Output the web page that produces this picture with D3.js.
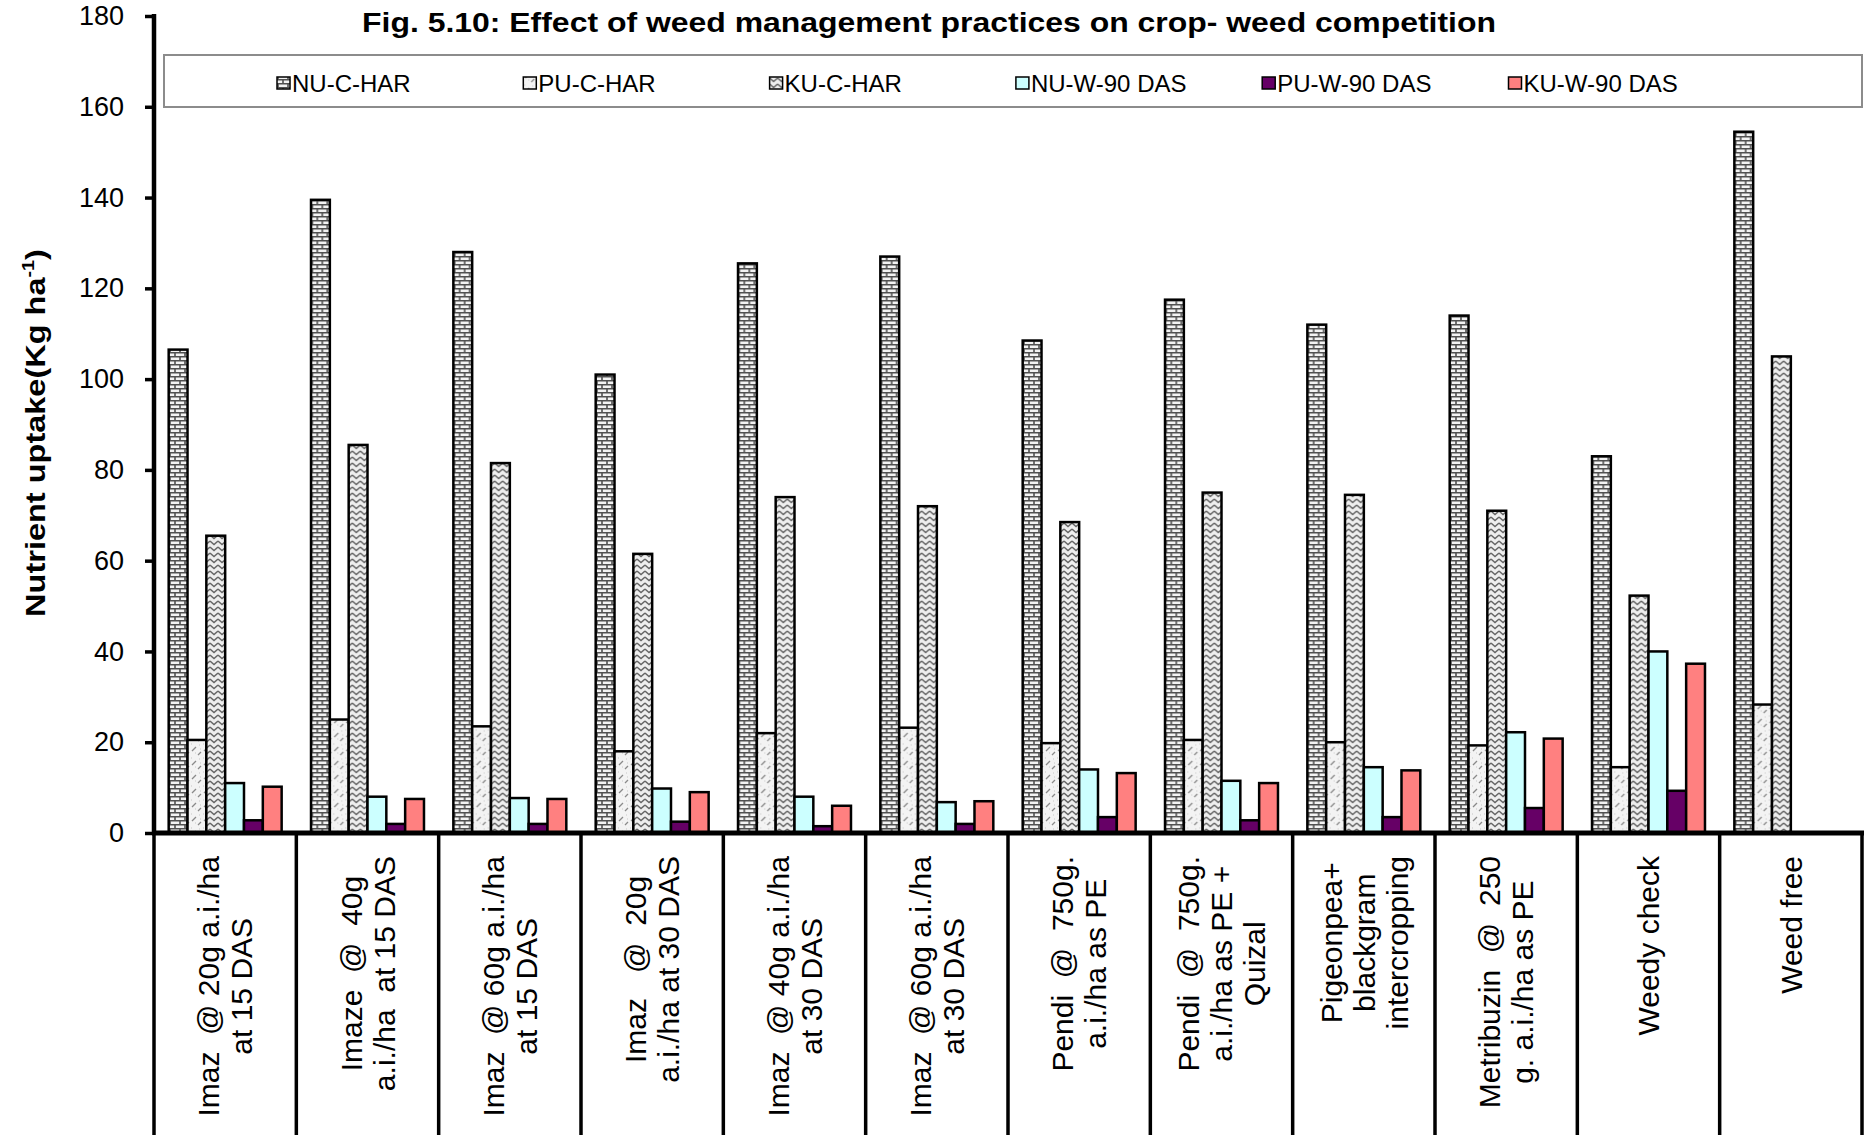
<!DOCTYPE html>
<html>
<head>
<meta charset="utf-8">
<script src="https://cdn.jsdelivr.net/npm/d3@7"></script>
<style>
  body { margin: 0; background: #fff; }
  svg text { font-family: "Liberation Sans", Arial, sans-serif; }
</style>
</head>
<body>
<svg id="chart"></svg>
<script>
// categories (each entry is the label split into its lines)
var categories = [
  ["Imaz  @ 20g a.i./ha", "at 15 DAS"],
  ["Imaze  @  40g", "a.i./ha  at 15 DAS"],
  ["Imaz  @ 60g a.i./ha", "at 15 DAS"],
  ["Imaz   @  20g", "a.i./ha at 30 DAS"],
  ["Imaz  @ 40g a.i./ha", "at 30 DAS"],
  ["Imaz  @ 60g a.i./ha", "at 30 DAS"],
  ["Pendi  @  750g.", "a.i./ha as PE"],
  ["Pendi  @  750g.", "a.i./ha as PE +", "Quizal"],
  ["Pigeonpea+", "blackgram", "intercropping"],
  ["Metribuzin  @  250", "g. a.i./ha as PE"],
  ["Weedy check"],
  ["Weed free"]
]
var seriesNames = ["NU-C-HAR", "PU-C-HAR", "KU-C-HAR", "NU-W-90 DAS", "PU-W-90 DAS", "KU-W-90 DAS"]

var nuCHar = [106.5, 139.5, 128, 101, 125.5, 127, 108.5, 117.5, 112, 114, 83, 154.5]
var puCHar = [20.5, 25, 23.5, 18, 22, 23.2, 19.8, 20.5, 20, 19.3, 14.5, 28.3]
var kuCHar = [65.5, 85.5, 81.5, 61.5, 74, 72, 68.5, 75, 74.5, 71, 52.3, 105]
var nuW90 = [11, 8, 7.7, 9.8, 8, 6.8, 14, 11.5, 14.5, 22.2, 40, 0]
var puW90 = [2.8, 2, 2, 2.5, 1.5, 2, 3.5, 2.8, 3.5, 5.5, 9.3, 0]
var kuW90 = [10.2, 7.5, 7.5, 9, 6, 7, 13.2, 11, 13.8, 20.8, 37.3, 0]
var seriesValues = [nuCHar, puCHar, kuCHar, nuW90, puW90, kuW90]

var yTicks = [0, 20, 40, 60, 80, 100, 120, 140, 160, 180]

var W = 1872, H = 1135
var plotLeft = 154, plotRight = 1862, plotTop = 16, plotBase = 833

var svg = d3.select("#chart").attr("width", W).attr("height", H)
var defs = svg.append("defs")

// ---- fill patterns (Excel style)
var brick = defs.append("pattern").attr("id", "brick").attr("patternUnits", "userSpaceOnUse").attr("width", 10).attr("height", 8)
brick.append("rect").attr("width", 10).attr("height", 8).attr("fill", "#f2f2f2")
brick.append("path").attr("d", "M0,0.75H10M0,4.75H10M1,0.75V4.75M6,4.75V8").attr("stroke", "#505050").attr("stroke-width", 1.6)

var speck = defs.append("pattern").attr("id", "speck").attr("patternUnits", "userSpaceOnUse").attr("width", 12).attr("height", 14)
speck.append("rect").attr("width", 12).attr("height", 14).attr("fill", "#f3f3f3")
speck.append("path").attr("d", "M2,9L6,5M8,13L11,10").attr("stroke", "#8a8a8a").attr("stroke-width", 1.3)
speck.append("path").attr("d", "M1,2h1M9,3h1M5,11h1M10,7h1").attr("stroke", "#c8c8c8").attr("stroke-width", 1)

var zig = defs.append("pattern").attr("id", "zig").attr("patternUnits", "userSpaceOnUse").attr("width", 8).attr("height", 6)
zig.append("rect").attr("width", 8).attr("height", 6).attr("fill", "#eeeeee")
zig.append("path").attr("d", "M0,1L4,4.5L8,1").attr("fill", "none").attr("stroke", "#666").attr("stroke-width", 1.4)

var fills = ["url(#brick)", "url(#speck)", "url(#zig)", "#CCFFFF", "#660066", "#FF8080"]

// ---- scales
var x = d3.scaleBand().domain(d3.range(categories.length)).range([plotLeft, plotRight]).paddingInner(0).paddingOuter(0)
var xs = d3.scaleBand().domain(d3.range(seriesNames.length)).range([0, x.bandwidth()]).paddingInner(0).paddingOuter(0.78)
var y = d3.scaleLinear().domain([0, 180]).range([plotBase, plotTop])

// ---- bars
var groups = svg.selectAll(".grp").data(categories).join("g").attr("class", "grp")
  .attr("transform", (d, i) => "translate(" + x(i) + ",0)")
groups.selectAll("rect").data((d, i) => seriesValues.map((s, j) => ({ s: j, v: s[i] })).filter(d => d.v > 0))
  .join("rect")
  .attr("x", d => xs(d.s))
  .attr("y", d => y(d.v))
  .attr("width", xs.bandwidth())
  .attr("height", d => plotBase - y(d.v))
  .attr("fill", d => fills[d.s])
  .attr("stroke", "#000").attr("stroke-width", 2.5)

// ---- y axis
var yAxis = svg.append("g").attr("transform", "translate(" + plotLeft + ",0)")
  .call(d3.axisLeft(y).tickValues(yTicks).tickSize(9).tickPadding(21))
yAxis.select(".domain").attr("stroke-width", 4.5).attr("d", "M0," + (plotTop - 2) + "V" + plotBase)
yAxis.selectAll(".tick line").attr("stroke-width", 3.5)
yAxis.selectAll(".tick text").style("font-size", "27px").attr("fill", "#000")

// ---- category axis with box lines
svg.append("line").attr("x1", plotLeft - 2).attr("x2", plotRight + 2).attr("y1", plotBase).attr("y2", plotBase)
  .attr("stroke", "#000").attr("stroke-width", 5)
svg.selectAll(".sep").data(d3.range(categories.length + 1)).join("line").attr("class", "sep")
  .attr("x1", i => plotLeft + i * x.step()).attr("x2", i => plotLeft + i * x.step())
  .attr("y1", plotBase).attr("y2", H)
  .attr("stroke", "#000").attr("stroke-width", 3.5)

var labelTop = 856, lineH = 33
groups.each(function (lines, i) {
  var g = d3.select(this).append("g")
    .attr("transform", "translate(" + (x.bandwidth() / 2) + "," + labelTop + ") rotate(-90)")
  var t = g.selectAll("text").data(lines).join("text")
    .style("font-size", "30px").style("white-space", "pre").attr("fill", "#000")
    .attr("text-anchor", "middle")
    .attr("y", (d, k) => (k - (lines.length - 1) / 2) * lineH)
    .attr("dy", "0.36em")
    .text(d => d)
  var maxLen = d3.max(t.nodes(), n => n.getComputedTextLength())
  t.attr("x", -maxLen / 2)
})

// ---- y axis title
var yt = svg.append("text").attr("text-anchor", "middle").style("font-size", "28px").style("font-weight", "bold")
yt.append("tspan").text("Nutrient uptake(Kg ha")
yt.append("tspan").text("-1").style("font-size", "17px").attr("dy", "-11")
yt.append("tspan").text(")").attr("dy", "11")
var ytLen = yt.node().getBBox().width
yt.attr("transform", "translate(45,433) rotate(-90) scale(" + (368 / ytLen) + ",1)")

// ---- title
svg.append("text").attr("x", 929).attr("y", 32).attr("text-anchor", "middle")
  .style("font-size", "28px").style("font-weight", "bold")
  .attr("textLength", 1134).attr("lengthAdjust", "spacingAndGlyphs")
  .text("Fig. 5.10: Effect of weed management practices on crop- weed competition")

// ---- legend
svg.append("rect").attr("x", 164).attr("y", 55).attr("width", plotRight - 164).attr("height", 52)
  .attr("fill", "#fff").attr("stroke", "#8c8c8c").attr("stroke-width", 2)
var leg = svg.selectAll(".leg").data(seriesNames).join("g").attr("class", "leg")
  .attr("transform", (d, i) => "translate(" + (277 + i * 246.3) + ",83)")
leg.append("rect").attr("x", 0).attr("y", -6).attr("width", 13).attr("height", 12)
  .attr("fill", (d, i) => fills[i]).attr("stroke", "#000").attr("stroke-width", 1.5)
leg.append("text").attr("x", 15).attr("dy", "0.36em").style("font-size", "24px").text(d => d)
</script>
</body>
</html>
